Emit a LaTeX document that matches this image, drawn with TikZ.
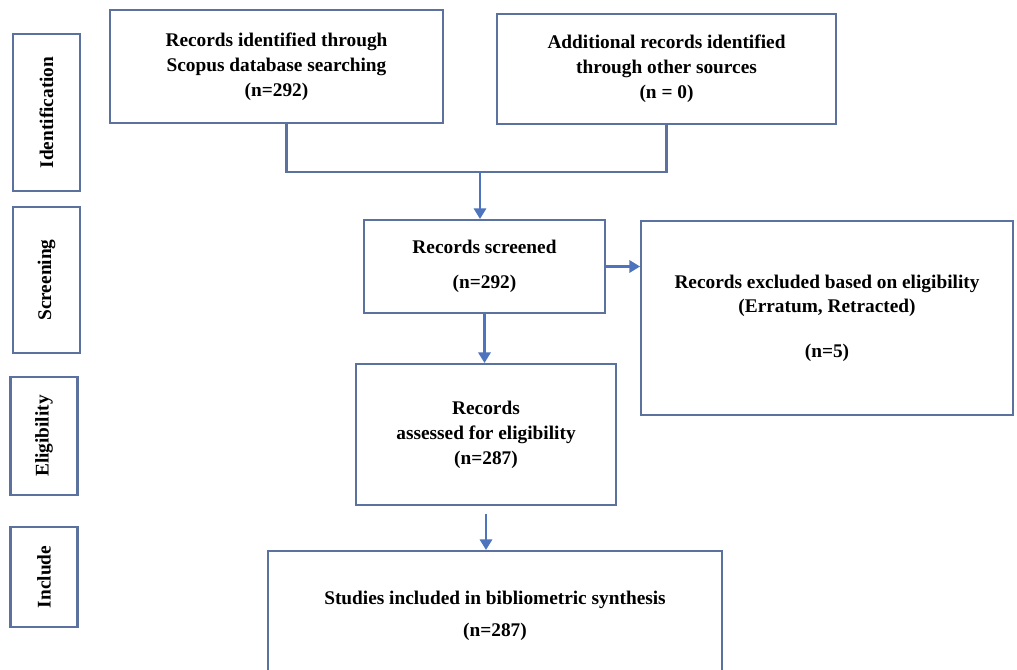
\documentclass[tikz,border=0pt]{standalone}
\usepackage{fontspec}
\setmainfont{Liberation Serif}
\usetikzlibrary{arrows.meta}
\definecolor{boxline}{RGB}{92,114,158}
\definecolor{arrowblue}{RGB}{78,116,190}
\tikzset{
	recbox/.style={draw=boxline, line width=1.2pt, align=center, inner sep=2pt, font=\fontsize{11}{14.2}\selectfont\bfseries},
	stagebox/.style={recbox, minimum width=1.34cm},
	joinline/.style={draw=boxline, line width=1.2pt},
	flowarrow/.style={draw=arrowblue, line width=1.2pt, -{Triangle[width=7pt,length=6pt]}}
}

\begin{document}
\begin{tikzpicture}[x=0.02cm, y=-0.02cm]
			\clip (0,0) rectangle (1017,669);
			\fill[white] (0,0) rectangle (1017,669);

			\node[stagebox, minimum height=3.14cm] (ident) at (46.5,112.5){\rotatebox{90}{Identification}};
			\node[stagebox, minimum height=2.92cm] (screen) at (46.5,280){\rotatebox{90}{Screening}};
			\node[stagebox, minimum height=2.36cm] (elig) at (44,436){\rotatebox{90}{Eligibility}};
			\node[stagebox, minimum height=2.0cm] (incl) at (44,577){\rotatebox{90}{Include}};

			\node[recbox, minimum width=6.66cm, minimum height=2.26cm] (scopus) at (276.5,66.5){Records identified through\\Scopus database searching\\(n=292)};
			\node[recbox, minimum width=6.78cm, minimum height=2.2cm] (other) at (666.5,69){Additional records identified\\through other sources\\(n = 0)};
			\node[recbox, minimum width=4.82cm, minimum height=1.86cm] (screened) at (484.5,266.5){Records screened\\[6pt](n=292)};
			\node[recbox, minimum width=7.44cm, minimum height=3.88cm] (excluded) at (827,318){Records excluded based on eligibility\\(Erratum, Retracted)\\[11pt](n=5)};
			\node[recbox, minimum width=5.2cm, minimum height=2.82cm] (assessed) at (486,434.5){Records\\assessed for eligibility\\(n=287)};
			\node[recbox, minimum width=9.08cm, minimum height=2.6cm] (included) at (495,616){Studies included in bibliometric synthesis\\[4pt](n=287)};

			\coordinate (join) at (480,172);
			\draw[joinline] ([xshift=0.2cm]scopus.south) |- (join) -| (other.south);
			\draw[flowarrow] (join) -- (join |- screened.north);
			\draw[flowarrow] (screened.east) -- (screened.east -| excluded.west);
			\draw[flowarrow] (screened.south) -- (screened.south |- assessed.north);
			\draw[flowarrow] ([yshift=-0.16cm]assessed.south) -- (assessed.south |- included.north);
		\end{tikzpicture}
\end{document}
